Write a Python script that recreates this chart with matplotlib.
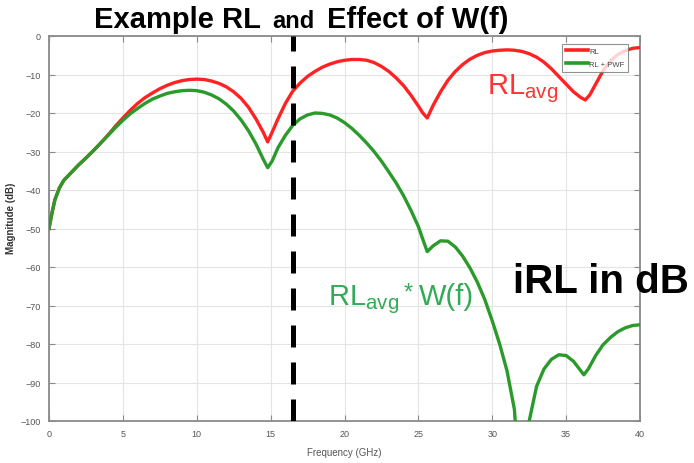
import matplotlib
matplotlib.use("Agg")
import matplotlib.pyplot as plt

plt.rcParams['font.family'] = ['Liberation Sans', 'DejaVu Sans']
plt.rcParams['mathtext.fontset'] = 'custom'
plt.rcParams['mathtext.rm'] = 'Liberation Sans'
plt.rcParams['mathtext.it'] = 'Liberation Sans'

# ---- data ----
rl_freq = [0, 0.2, 0.4, 0.7, 1.0, 1.5, 2.0, 2.5, 3.0, 3.5, 4.0, 4.5, 5.0, 5.5, 6.0,
           6.5, 7.0, 7.5, 8.0, 8.5, 9.0, 9.5, 10.0, 10.5, 11.0, 11.5, 12.0, 12.5,
           13.0, 13.5, 14.0, 14.5, 14.8, 15.1, 15.5, 16.0, 16.5, 17.0, 17.5, 18.0,
           18.5, 19.0, 19.5, 20.0, 20.5, 21.0, 21.5, 22.0, 22.5, 23.0, 23.5, 24.0,
           24.5, 25.0, 25.3, 25.6, 26.0, 26.5, 27.0, 27.5, 28.0, 28.5, 29.0, 29.5,
           30.0, 30.5, 31.0, 31.5, 32.0, 32.5, 33.0, 33.5, 34.0, 34.5, 35.0, 35.5,
           36.0, 36.3, 36.6, 37.0, 37.5, 38.0, 38.5, 39.0, 39.5, 40.0]
rl_db = [-50, -46, -42.5, -39.5, -37.5, -35.5, -33.5, -31.7, -29.8, -27.8, -25.7,
         -23.4, -21.3, -19.3, -17.5, -16.0, -14.8, -13.7, -12.8, -12.1, -11.6,
         -11.3, -11.2, -11.3, -11.7, -12.3, -13.2, -14.5, -16.2, -18.5, -21.5,
         -25.0, -27.5, -25.0, -21.5, -17.5, -14.3, -12.2, -10.5, -9.2, -8.1, -7.3,
         -6.7, -6.3, -6.1, -6.1, -6.3, -6.9, -7.9, -9.2, -10.9, -12.9, -15.4,
         -18.2, -20.0, -21.3, -18.0, -14.5, -11.5, -9.2, -7.4, -6.0, -5.0, -4.3,
         -3.9, -3.7, -3.6, -3.7, -4.0, -4.6, -5.5, -6.8, -8.5, -10.5, -12.5,
         -14.5, -16.0, -16.6, -15.3, -12.5, -9.0, -6.5, -4.8, -3.8, -3.2, -3.0]

pwf_freq = [0, 0.2, 0.4, 0.7, 1.0, 1.5, 2.0, 2.5, 3.0, 3.5, 4.0, 4.5, 5.0, 5.5, 6.0,
            6.5, 7.0, 7.5, 8.0, 8.5, 9.0, 9.5, 10.0, 10.5, 11.0, 11.5, 12.0, 12.5,
            13.0, 13.5, 14.0, 14.5, 14.8, 15.1, 15.5, 16.0, 16.5, 17.0, 17.5, 18.0,
            18.5, 19.0, 19.5, 20.0, 20.5, 21.0, 21.5, 22.0, 22.5, 23.0, 23.5, 24.0,
            24.5, 25.0, 25.3, 25.6, 26.0, 26.5, 27.0, 27.5, 28.0, 28.5, 29.0, 29.5,
            30.0, 30.5, 31.0, 31.5, 32.0, 32.5, 33.0, 33.5, 34.0, 34.5, 35.0, 35.5,
            36.0, 36.2, 36.5, 37.0, 37.5, 38.0, 38.5, 39.0, 39.5, 40.0]
pwf_db = [-50, -46, -42.5, -39.5, -37.5, -35.5, -33.5, -31.7, -29.8, -27.8, -25.8,
          -23.8, -21.9, -20.2, -18.8, -17.5, -16.4, -15.6, -14.9, -14.5, -14.2,
          -14.1, -14.2, -14.6, -15.3, -16.3, -17.7, -19.5, -21.8, -24.6, -28.0,
          -32.0, -34.2, -32.5, -29.0, -25.8, -23.2, -21.5, -20.5, -20.0, -20.1,
          -20.5, -21.3, -22.5, -24.0, -25.8, -27.8, -30.0, -32.5, -35.3, -38.2,
          -41.5, -45.3, -49.5, -52.8, -56.0, -54.5, -53.2, -53.3, -54.8, -57.2,
          -60.3, -64.0, -68.5, -74.0, -80.0, -87.0, -97.0, -125.0, -100.0, -91.0,
          -86.5, -84.0, -82.8, -83.0, -84.5, -87.0, -88.0, -86.5, -83.0, -80.2,
          -78.3, -76.8, -75.8, -75.2, -75.0]

x_ticks = [0, 5, 10, 15, 20, 25, 30, 35, 40]
y_ticks = [0, -10, -20, -30, -40, -50, -60, -70, -80, -90, -100]
cutoff_freq = 16.5
legend_labels = ['RL', 'RL + PWF']

W, H = 694, 464
fig = plt.figure(figsize=(W / 100, H / 100), dpi=100)
ax = fig.add_axes([49 / W, 1 - 422 / H, 591 / W, 385 / H])

red = '#ff2222'
green = '#2a9a2a'
ax.plot(rl_freq, rl_db, color=red, lw=2.4, label=legend_labels[0], zorder=3)
ax.plot(pwf_freq, pwf_db, color=green, lw=2.4, label=legend_labels[1], zorder=3)
ax.axvline(cutoff_freq, color='black', lw=3.6, dashes=(4.4, 3.0), zorder=4)

ax.set_xlim(0, 40)
ax.set_ylim(-100, 0)
ax.set_xticks(x_ticks)
ax.set_yticks(y_ticks)
ax.grid(True, color='#e4e4e4', lw=0.8)
ax.set_axisbelow(True)
for s in ax.spines.values():
    s.set_color('#8a8a8a')
    s.set_linewidth(1.3)
ax.tick_params(direction='in', length=4, width=0.8, colors='#8a8a8a',
               labelcolor='#555555', labelsize=6.5, top=True, right=True, pad=6)
ax.set_xlabel('Frequency (GHz)', fontsize=7, color='#555555', labelpad=6)
ax.set_ylabel('Magnitude (dB)', fontsize=7, color='#333333', fontweight='bold')
ax.yaxis.set_label_coords(-(49 - 16) / 591, 0.53)

leg = ax.legend(loc='upper right', bbox_to_anchor=(632 / 591 - 49 / 591, 1 - 4 / 385),
                fontsize=5.5, frameon=True, fancybox=False, handlelength=2.8,
                borderpad=0.5, labelspacing=0.7, handletextpad=0.2)
leg.get_frame().set_edgecolor('#777777')
leg.get_frame().set_linewidth(0.8)
for t in leg.get_texts():
    t.set_color('#444444')
for l in leg.get_lines():
    l.set_linewidth(2.6)


def ftext(x, y, s, **kw):
    fig.text(x / W, 1 - y / H, s, va='baseline', ha='left', **kw)


ftext(94, 28, 'Example RL', fontsize=21, fontweight='bold')
ftext(272, 28, 'and', fontsize=17, fontweight='bold')
ftext(327, 28, 'Effect of W(f)', fontsize=21, fontweight='bold')
ftext(513, 293, 'iRL in dB', fontsize=29, fontweight='bold')
ftext(487, 94, r'$\mathrm{RL}_{\mathrm{avg}}$', fontsize=21, color='#ff3333')
green_txt = '#33aa55'
ftext(328, 305, r'$\mathrm{RL}_{\mathrm{avg}}$', fontsize=21, color=green_txt)
ftext(404, 300, '*', fontsize=17, color=green_txt)
ftext(419, 305, 'W(f)', fontsize=21, color=green_txt)

fig.savefig('out.png', dpi=100)
